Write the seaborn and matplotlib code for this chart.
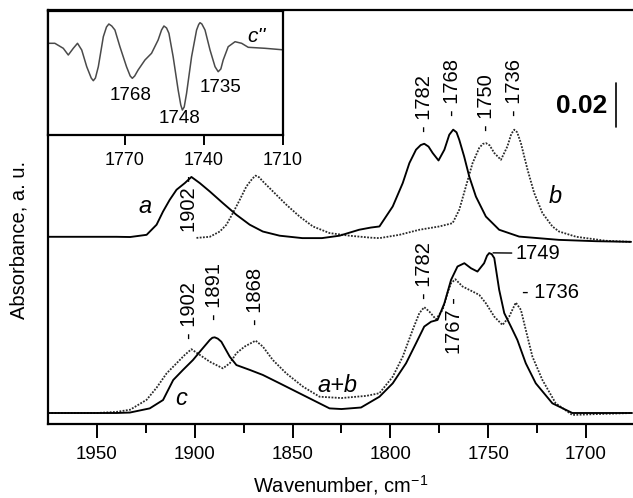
import numpy as np
import pandas as pd
import matplotlib
matplotlib.use("Agg")
import matplotlib.pyplot as plt
import seaborn as sns

# ---------------- data (absorbance, relative to each curve's own baseline) ----------------
wn_a = [1975, 1950, 1940, 1933, 1924.6, 1919.5, 1916.2, 1912.8, 1909.3, 1905.1, 1901.7, 1897.4, 1892.3,
        1885.6, 1878.7, 1871.9, 1865.2, 1856.6, 1845, 1835, 1826, 1816, 1810, 1805.6, 1798.8, 1793.7,
        1790.3, 1786.9, 1784.5, 1782.7, 1780.5, 1778.4, 1775.4, 1772.4, 1769.9, 1767.9, 1766.2, 1764.8,
        1762.3, 1759.7, 1756.3, 1751.2, 1744.4, 1734.2, 1713.8, 1695, 1677]
abs_a = [0.0, 0.0, 0.0, -0.0001, 0.0009, 0.0055, 0.0115, 0.0168, 0.0214, 0.0244, 0.0272, 0.0244, 0.0206,
         0.0153, 0.0100, 0.0055, 0.0024, 0.0005, -0.0006, -0.0006, 0.0005, 0.0032, 0.0042, 0.0047, 0.0138, 0.0244,
         0.0335, 0.0396, 0.0417, 0.0423, 0.0410, 0.0381, 0.0347, 0.0396, 0.0464, 0.0487, 0.0475, 0.0441,
         0.0365, 0.0274, 0.0183, 0.0092, 0.0032, 0.0001, -0.0014, -0.0020, -0.0023]

wn_b = [1899.1, 1892.3, 1887.2, 1883.8, 1880.5, 1877, 1873.6, 1870.5, 1868.9, 1867, 1865.2, 1860, 1853.2,
        1846.4, 1839.6, 1831.1, 1821, 1810, 1805.6, 1795.4, 1785.2, 1775, 1768.2, 1764.8, 1761.4, 1758,
        1754.6, 1752.8, 1751.2, 1749.3, 1746.9, 1743.5, 1740.2, 1738.2, 1736.7, 1735.2, 1733.3, 1729.9,
        1726.5, 1722.3, 1717.2, 1713.8, 1705, 1690, 1677]
abs_b = [-0.0005, 0.0, 0.0024, 0.0055, 0.0108, 0.0168, 0.0229, 0.0265, 0.0278, 0.0270, 0.0252, 0.0206, 0.0146,
         0.0092, 0.0047, 0.0017, 0.0005, -0.0004, -0.0006, 0.0009, 0.0032, 0.0047, 0.0062, 0.0123, 0.0229, 0.0335,
         0.0404, 0.0422, 0.0426, 0.0416, 0.0381, 0.0350, 0.0411, 0.0468, 0.0487, 0.0475, 0.0426, 0.0305,
         0.0199, 0.0108, 0.0047, 0.0024, 0.0, -0.0018, -0.0023]

wn_ab = [1975, 1950, 1940, 1933, 1924.6, 1919.5, 1914.4, 1909.3, 1905.1, 1901.7, 1897.4, 1892.3, 1885.6,
         1882.1, 1878.7, 1874.5, 1868.9, 1865.2, 1860.1, 1853.2, 1844.7, 1836.2, 1825, 1812.2, 1805.6,
         1798.8, 1793.7, 1788.6, 1785.2, 1782.7, 1780.1, 1776.7, 1773.3, 1770.8, 1769, 1766.8, 1763.1,
         1759.7, 1754.6, 1751.2, 1746.9, 1742.7, 1739.3, 1735.9, 1733.3, 1730.8, 1727.4, 1722.3, 1715.5,
         1707, 1695, 1676.5]
abs_ab = [0.0, 0.0, 0.0005, 0.0015, 0.0060, 0.0115, 0.0180, 0.0226, 0.0264, 0.0290, 0.0264, 0.0233, 0.0203,
          0.0226, 0.0272, 0.0302, 0.0329, 0.0302, 0.0241, 0.0180, 0.0120, 0.0074, 0.0068, 0.0078, 0.0090,
          0.0165, 0.0256, 0.0378, 0.0454, 0.0481, 0.0461, 0.0426, 0.0469, 0.0545, 0.0590, 0.0608, 0.0575,
          0.0560, 0.0537, 0.0499, 0.0438, 0.0400, 0.0438, 0.0502, 0.0469, 0.0378, 0.0256, 0.0150, 0.0044,
          -0.0009, -0.0005, 0.0]

wn_c = [1975, 1950, 1940, 1933.2, 1923, 1916.2, 1911, 1906, 1900.9, 1896.6, 1892.3, 1891, 1889.8, 1888.2,
        1886.4, 1882.1, 1878.7, 1871.9, 1865.2, 1856.6, 1848.1, 1839.6, 1831.1, 1825, 1815, 1805.6, 1798.8,
        1792, 1786.9, 1782.7, 1779.2, 1775.9, 1772.4, 1769, 1765.7, 1762.2, 1758.8, 1755.5, 1752.1, 1750.6,
        1749.5, 1748.2, 1746.9, 1744.4, 1741.8, 1738.4, 1735.1, 1730.8, 1725.7, 1717.2, 1707, 1693, 1676.5]
abs_c = [0.0, 0.0, 0.0, 0.0002, 0.0021, 0.0059, 0.0150, 0.0196, 0.0241, 0.0287, 0.0332, 0.0342, 0.0344, 0.0338,
         0.0324, 0.0256, 0.0218, 0.0196, 0.0173, 0.0135, 0.0097, 0.0059, 0.0021, 0.0018, 0.0025, 0.0074, 0.0135,
         0.0226, 0.0317, 0.0393, 0.0415, 0.0423, 0.0499, 0.0605, 0.0666, 0.0681, 0.0658, 0.0643, 0.0681, 0.0715,
         0.0727, 0.0722, 0.0704, 0.0560, 0.0454, 0.0393, 0.0332, 0.0226, 0.0135, 0.0044, 0.0, 0.0, 0.0]

offset_upper = 0.0851
offset_lower = 0.005

# inset: second derivative c'' (arbitrary units)
wn_d2 = [1800.4, 1796.6, 1793.4, 1791.5, 1789.6, 1788.0, 1786.4, 1784.5, 1782.8, 1782.0, 1781.2, 1780.1,
         1778.2, 1777.0, 1776.1, 1775.0, 1773.8, 1771.9, 1769.4, 1768.0, 1767.2, 1766.3, 1765.0, 1762.4,
         1759.9, 1757.4, 1756.1, 1755.2, 1754.2, 1753.3, 1751.7, 1749.8, 1748.8, 1748.2, 1747.5, 1746.6,
         1744.7, 1742.8, 1742.0, 1741.5, 1740.8, 1739.6, 1737.7, 1735.8, 1734.6, 1733.6, 1732.7, 1730.8,
         1728.2, 1725.7, 1723.2, 1716.8, 1709.2]
d2_c = [1.7, 1.7, -3.3, -10, -3.3, 1.7, -5, -21.7, -33, -35.7, -33, -21.7, 8.3, 18, 21, 19, 15, -1.7, -21.7,
        -31, -33.3, -31, -25, -15, -8.3, 5, 15, 19, 17, 11.7, -11.7, -45, -60, -65, -62, -48.3, -11.7, 15,
        20.5, 22.3, 21, 15, -5, -21.7, -26.7, -24, -15, -1.7, 3.3, 1.7, -2.3, -3.3, -5]

# ---------------- style ----------------
sns.set_style("ticks")
plt.rcParams["font.family"] = ["Liberation Sans", "DejaVu Sans"]
plt.rcParams["mathtext.fontset"] = "custom"
plt.rcParams["mathtext.rm"] = "Liberation Sans"
plt.rcParams["axes.linewidth"] = 1.6
for key in ["text.color", "axes.labelcolor", "xtick.color", "ytick.color", "axes.edgecolor",
            "xtick.labelcolor", "ytick.labelcolor"]:
    plt.rcParams[key] = "black"

fig = plt.figure(figsize=(6.33, 4.98), dpi=100)
ax = fig.add_axes([48/633, 1-424/498, 1-48/633, (424-10)/498])

solid_kw = dict(color="black", linewidth=1.35)
dot_kw = dict(color="#2a2a2a", linewidth=1.3, linestyle=(0, (1, 0.8)))

def curve(wn, val, off, kw, axis):
    df = pd.DataFrame({"wn": wn, "A": np.asarray(val) + off})
    sns.lineplot(data=df, x="wn", y="A", ax=axis, sort=False, estimator=None, **kw)

curve(wn_b, abs_b, offset_upper, dot_kw, ax)
curve(wn_a, abs_a, offset_upper, solid_kw, ax)
curve(wn_ab, abs_ab, offset_lower, dot_kw, ax)
curve(wn_c, abs_c, offset_lower, solid_kw, ax)

ax.set_xlim(1975, 1676)
ax.set_ylim(0, 0.1882)
ax.set_yticks([])
ax.set_xticks([1950, 1900, 1850, 1800, 1750, 1700])
ax.set_xticks([1925, 1875, 1825, 1775, 1725], minor=True)
ax.tick_params(axis="x", which="major", direction="out", length=10, width=1.4, labelsize=13.5, pad=6)
ax.tick_params(axis="x", which="minor", direction="out", length=6.5, width=1.4)
ax.set_xlabel("Wavenumber, cm$^{\\mathregular{-1}}$", fontsize=14.5, labelpad=7)
ax.set_ylabel("Absorbance, a. u.", fontsize=14.5)
ax.yaxis.set_label_coords(-0.034, 0.444)
ax.spines["right"].set_visible(False)

fs = 14.5
# upper labels (rotated, top-aligned)
ax.text(1782.7, 0.1588, "- 1782", rotation=90, ha="center", va="top", fontsize=fs)
ax.text(1768, 0.1661, "- 1768", rotation=90, ha="center", va="top", fontsize=fs)
ax.text(1751, 0.1588, "- 1750", rotation=90, ha="center", va="top", fontsize=fs)
ax.text(1736.5, 0.1661, "- 1736", rotation=90, ha="center", va="top", fontsize=fs)
ax.text(1902.9, 0.1133, "1902 -", rotation=90, ha="center", va="top", fontsize=fs)
ax.text(1925.5, 0.0989, "a", style="italic", ha="center", va="center", fontsize=17)
ax.text(1715.5, 0.1034, "b", style="italic", ha="center", va="center", fontsize=17)

# lower labels
ax.text(1902.6, 0.0646, "- 1902", rotation=90, ha="center", va="top", fontsize=fs)
ax.text(1890, 0.0733, "- 1891", rotation=90, ha="center", va="top", fontsize=fs)
ax.text(1868.9, 0.0710, "- 1868", rotation=90, ha="center", va="top", fontsize=fs)
ax.text(1782.7, 0.0828, "- 1782", rotation=90, ha="center", va="top", fontsize=fs)
ax.text(1767.3, 0.0578, "1767 -", rotation=90, ha="center", va="top", fontsize=fs)
ax.text(1906.8, 0.0117, "c", style="italic", ha="center", va="center", fontsize=17)
ax.text(1827, 0.0177, "a+b", style="italic", ha="center", va="center", fontsize=17)
ax.annotate("1749", xy=(1747.5, 0.0778), xytext=(1736.3, 0.0776), ha="left", va="center", fontsize=fs,
            arrowprops=dict(arrowstyle="-", color="black", lw=1.0, shrinkA=0, shrinkB=0))
ax.text(1732.7, 0.0600, "- 1736", ha="left", va="center", fontsize=fs)

# scale bar
ax.plot([1684.7, 1684.7], [0.1351, 0.1552], color="black", lw=1.2)
ax.text(1689.3, 0.1445, "0.02", ha="right", va="center", fontsize=19, fontweight="bold")

# ---------------- inset ----------------
ins = fig.add_axes([48/633, 1-135/498, (283-48)/633, (135-11)/498])
ins.set_facecolor("white")
df2 = pd.DataFrame({"wn": wn_d2, "d2": d2_c})
sns.lineplot(data=df2, x="wn", y="d2", ax=ins, sort=False, estimator=None, color="#4a4a4a", linewidth=1.1)
ins.set_xlim(1799.2, 1710)
ins.set_ylim(-90, 34)
ins.set_yticks([])
ins.set_xticks([1770, 1740, 1710])
ins.tick_params(axis="x", direction="out", length=7, width=1.4, labelsize=13, pad=5)
ins.set_xlabel("")
ins.set_ylabel("")
for s in ins.spines.values():
    s.set_linewidth(1.6)
ins.text(1767.7, -50, "1768", ha="center", va="center", fontsize=13.5)
ins.text(1749.1, -73, "1748", ha="center", va="center", fontsize=13.5)
ins.text(1733.9, -42, "1735", ha="center", va="center", fontsize=13.5)
ins.text(1719.9, 8, "c''", style="italic", ha="center", va="center", fontsize=15)

fig.savefig("out.png", dpi=100)
